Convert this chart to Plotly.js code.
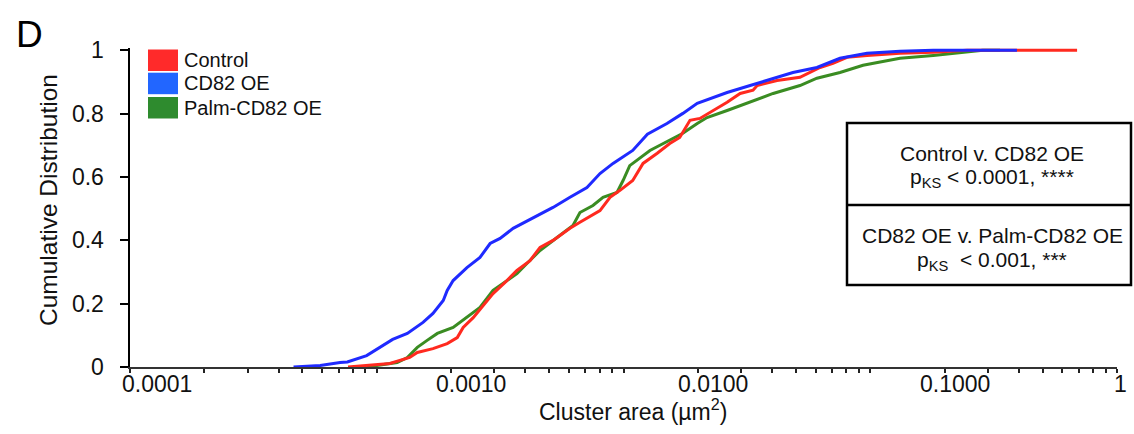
<!DOCTYPE html>
<html>
<head>
<meta charset="utf-8">
<script src="https://cdn.plot.ly/plotly-3.0.1.min.js"></script>
<style>html,body{margin:0;padding:0;background:#fff;}#chart{width:1134px;height:434px;}</style>
</head>
<body>
<div id="chart"></div>
<script>
// ---- Data (cluster area in µm², cumulative fraction) ----
const seriesNames = ["Control", "CD82 OE", "Palm-CD82 OE"];

const controlArea = [0.000765, 0.00113, 0.00136, 0.00146, 0.00169, 0.00193, 0.00212, 0.00224, 0.00246, 0.00280, 0.00296, 0.00337, 0.00370, 0.00418, 0.00459, 0.00518, 0.00607, 0.00666, 0.00803, 0.00882, 0.00968, 0.0109, 0.0120, 0.0137, 0.0154, 0.0169, 0.0186, 0.0204, 0.0231, 0.0263, 0.0297, 0.0335, 0.0348, 0.0419, 0.0519, 0.0626, 0.0706, 0.0805, 0.0970, 0.132, 0.180, 0.247, 0.689];
const controlCum  = [0, 0.011, 0.030, 0.046, 0.058, 0.074, 0.093, 0.125, 0.156, 0.210, 0.232, 0.273, 0.305, 0.336, 0.378, 0.400, 0.438, 0.457, 0.494, 0.536, 0.558, 0.589, 0.643, 0.675, 0.706, 0.725, 0.779, 0.785, 0.810, 0.836, 0.864, 0.874, 0.889, 0.905, 0.915, 0.946, 0.959, 0.978, 0.984, 0.991, 0.994, 1.0, 1.0];

const cd82Area = [0.00046, 0.00059, 0.00071, 0.00076, 0.00091, 0.00103, 0.00116, 0.00133, 0.00154, 0.00169, 0.00186, 0.00193, 0.00204, 0.00232, 0.00262, 0.00288, 0.00316, 0.00357, 0.00430, 0.00518, 0.00607, 0.00711, 0.00803, 0.00907, 0.0109, 0.0125, 0.0150, 0.0174, 0.0199, 0.0224, 0.0263, 0.0326, 0.0404, 0.0486, 0.0608, 0.0754, 0.0970, 0.132, 0.180, 0.393];
const cd82Cum  = [0, 0.005, 0.014, 0.016, 0.036, 0.062, 0.087, 0.106, 0.141, 0.169, 0.210, 0.242, 0.273, 0.314, 0.346, 0.390, 0.406, 0.438, 0.472, 0.504, 0.536, 0.567, 0.611, 0.643, 0.684, 0.735, 0.769, 0.801, 0.833, 0.848, 0.867, 0.889, 0.912, 0.930, 0.946, 0.975, 0.991, 0.997, 1.0, 1.0];

const palmArea = [0.00091, 0.00113, 0.00121, 0.00133, 0.00146, 0.00160, 0.00176, 0.00204, 0.00232, 0.00262, 0.00296, 0.00325, 0.00370, 0.00406, 0.00459, 0.00538, 0.00624, 0.00666, 0.00752, 0.00826, 0.00941, 0.00996, 0.0106, 0.0128, 0.0150, 0.0174, 0.0199, 0.0218, 0.0263, 0.0326, 0.0404, 0.0519, 0.0608, 0.0754, 0.0935, 0.107, 0.132, 0.180, 0.247, 0.286, 0.336];
const palmCum  = [0, 0.011, 0.014, 0.030, 0.062, 0.084, 0.106, 0.125, 0.156, 0.188, 0.242, 0.264, 0.295, 0.327, 0.368, 0.409, 0.447, 0.488, 0.510, 0.536, 0.551, 0.589, 0.636, 0.684, 0.712, 0.738, 0.769, 0.788, 0.810, 0.836, 0.864, 0.889, 0.912, 0.930, 0.953, 0.962, 0.975, 0.984, 0.994, 1.0, 1.0];

const yTickVals = [0, 0.2, 0.4, 0.6, 0.8, 1];
const yTickText = ["0", "0.2", "0.4", "0.6", "0.8", "1"];
const xTickLabels = ["0.0001", "0.0010", "0.0100", "0.1000", "1"];

// ---- Styling ----
const FONT = "Liberation Sans, Arial, Helvetica, sans-serif";
const lineColors = ["#FF2A1F", "#1F2AFF", "#3A8C22"];
const legendColors = ["#FF2A2A", "#2266FF", "#2E8B2E"];
const xTickLabelPos = [0.0274, 0.3455, 0.5907, 0.8359, 1.004];

// log-axis tick marks (decades and 2..9 sub-ticks)
const xTickPositions = [];
for (let d = -4; d <= -1; d++) {
  for (let k = 1; k <= 9; k++) xTickPositions.push(k * Math.pow(10, d));
}
xTickPositions.push(1);

const traces = [
  {x: controlArea, y: controlCum, name: seriesNames[0]},
  {x: cd82Area, y: cd82Cum, name: seriesNames[1]},
  {x: palmArea, y: palmCum, name: seriesNames[2]}
].map((t, i) => Object.assign(t, {
  type: "scatter", mode: "lines", showlegend: false,
  line: {color: lineColors[i], width: 3}, hoverinfo: "x+y+name"
}));
// draw order: green under, then red, blue
const ordered = [traces[2], traces[0], traces[1]];

const shapes = [];
const annotations = [];

// legend swatches + labels
const legTop = [49.5, 72.7, 97];
const legH = 21.5;
legendColors.forEach((c, i) => {
  shapes.push({type: "rect", xref: "paper", yref: "paper",
    x0: (148 - 130) / 987, x1: (178 - 130) / 987,
    y0: (367 - legTop[i]) / 319, y1: (367 - legTop[i] - legH) / 319,
    fillcolor: c, line: {width: 0}});
  annotations.push({xref: "paper", yref: "paper", x: (182 - 130) / 987,
    y: (367 - (legTop[i] + legH / 2)) / 319, xanchor: "left", yanchor: "middle",
    text: seriesNames[i], showarrow: false, font: {family: FONT, size: 20, color: "#111"}});
});

// statistics box
shapes.push({type: "rect", xref: "paper", yref: "paper",
  x0: (847 - 130) / 987, x1: (1131 - 130) / 987, y0: (367 - 285) / 319, y1: (367 - 123) / 319,
  line: {color: "#000", width: 2.5}, fillcolor: "rgba(255,255,255,1)", layer: "above"});
shapes.push({type: "line", xref: "paper", yref: "paper",
  x0: (847 - 130) / 987, x1: (1131 - 130) / 987, y0: (367 - 205) / 319, y1: (367 - 205) / 319,
  line: {color: "#000", width: 2.5}});
const boxX = (992 - 130) / 987;
const boxLines = [
  ["Control v. CD82 OE", 153],
  ["p<sub>KS</sub> &lt; 0.0001, ****", 178],
  ["CD82 OE v. Palm-CD82 OE", 235],
  ["p<sub>KS</sub>  &lt; 0.001, ***", 261]
];
boxLines.forEach(([t, py]) => annotations.push({xref: "paper", yref: "paper", x: boxX,
  y: (367 - py) / 319, xanchor: "center", yanchor: "middle", text: t, showarrow: false,
  font: {family: FONT, size: 21, color: "#111"}}));

// x tick labels
xTickLabels.forEach((t, i) => annotations.push({xref: "paper", yref: "paper",
  x: xTickLabelPos[i], y: (367 - 384) / 319, xanchor: "center", yanchor: "middle",
  text: t, showarrow: false, font: {family: FONT, size: 23, color: "#111"}}));

// axis titles
annotations.push({xref: "paper", yref: "paper", x: (633 - 130) / 987, y: (367 - 410) / 319,
  xanchor: "center", yanchor: "middle", text: "Cluster area (µm<sup>2</sup>)", showarrow: false,
  font: {family: FONT, size: 23, color: "#111"}});
annotations.push({xref: "paper", yref: "paper", x: (48 - 130) / 987, y: (367 - 200) / 319,
  xanchor: "center", yanchor: "middle", textangle: -90, text: "Cumulative Distribution",
  showarrow: false, font: {family: FONT, size: 24.5, color: "#111"}});
// panel letter
annotations.push({xref: "paper", yref: "paper", x: (29 - 130) / 987, y: (367 - 34) / 319,
  xanchor: "center", yanchor: "middle", text: "D", showarrow: false,
  font: {family: FONT, size: 37, color: "#000"}});

const layout = {
  width: 1134, height: 434,
  margin: {l: 130, r: 17, t: 48, b: 67},
  paper_bgcolor: "#fff", plot_bgcolor: "#fff",
  font: {family: FONT, color: "#111"},
  showlegend: false,
  xaxis: {
    type: "log", range: [-4, 0], showgrid: false, zeroline: false,
    showline: true, linecolor: "#333", linewidth: 2,
    ticks: "outside", ticklen: 4, tickwidth: 2, tickcolor: "#222",
    tickmode: "array", tickvals: xTickPositions, showticklabels: false
  },
  yaxis: {
    range: [0, 1.0075], showgrid: false, zeroline: false,
    showline: true, linecolor: "#000", linewidth: 2.5,
    ticks: "outside", ticklen: 8, tickwidth: 2, tickcolor: "#000",
    tickmode: "array", tickvals: yTickVals, ticktext: yTickText,
    ticklabelstandoff: 11,
    tickfont: {family: FONT, size: 23, color: "#111"}
  },
  shapes: shapes,
  annotations: annotations
};

Plotly.newPlot("chart", ordered, layout, {displayModeBar: false, staticPlot: true});
</script>
</body>
</html>
